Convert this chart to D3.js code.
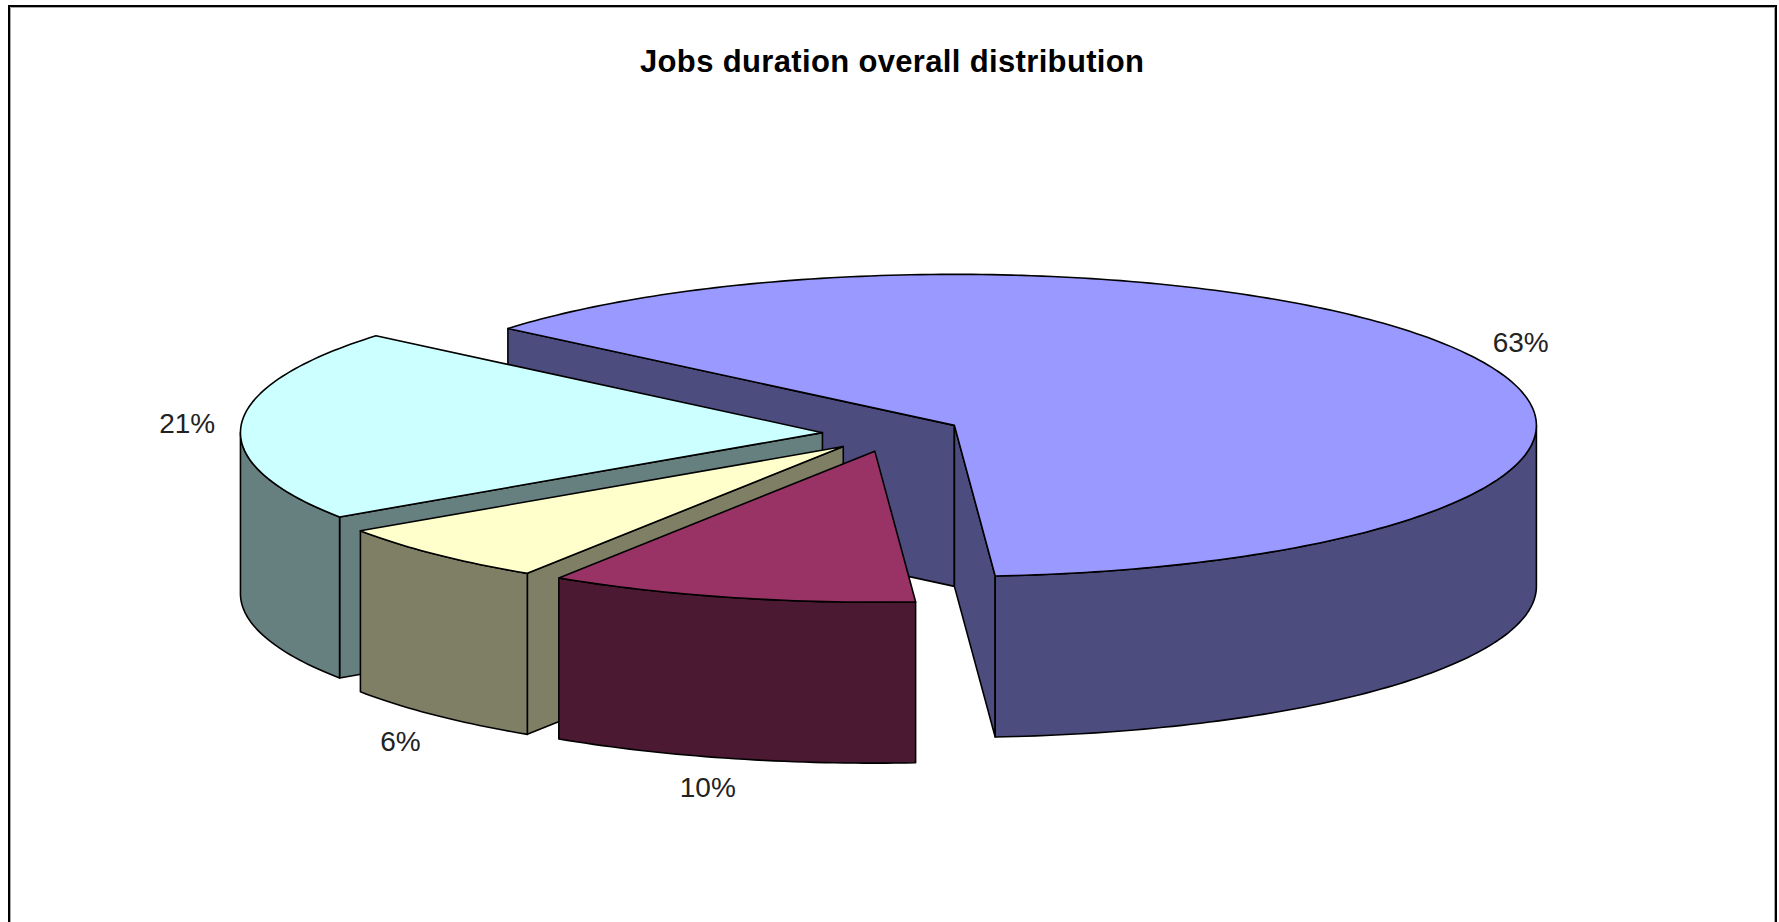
<!DOCTYPE html>
<html>
<head>
<meta charset="utf-8">
<style>
html,body{margin:0;padding:0;background:#fff;overflow:hidden}
svg{display:block}
text{font-family:"Liberation Sans",Arial,sans-serif}
</style>
<script src="https://d3js.org/d3.v7.min.js"></script>
</head>
<body>
<script>
// ---- data ----
const title = "Jobs duration overall distribution";
const values = [62.8, 10.25, 6.44, 20.51];
const labels = ["63%", "10%", "6%", "21%"];
const topColors = ["#9999FF", "#993366", "#FFFFCC", "#CCFFFF"];
const sideColors = ["#4C4C7F", "#4C1933", "#7F7F66", "#667F7F"];

// ---- layout ----
const W = 1779, H = 922;
const firstAngleDeg = -50.1;
const center = {x: 892.2, y: 433.6};
const radiusX = 582, radiusY = 151, depth = 161, explode = 0.12;
const drawOrder = [0, 3, 2, 1];   // painter's order, back to front
const labelNudge = [[48, -14], [-22, 29], [-35, 26], [-54, -1]];
const rad = d => d * Math.PI / 180;

const svg = d3.select("body").append("svg").attr("width", W).attr("height", H);

// chart frame (open at the bottom, runs off the page)
const frame = svg.append("g").attr("fill", "none");
frame.append("path").attr("d", `M10.5,${H}V7.5H1774.5V${H}`).attr("stroke", "#a8a8a8").attr("stroke-width", 1);
frame.append("path").attr("d", `M9,${H}V6H1776V${H}`).attr("stroke", "#000").attr("stroke-width", 2);

svg.append("text").attr("x", 892).attr("y", 72).attr("text-anchor", "middle")
  .attr("font-size", 31).attr("font-weight", "bold").attr("fill", "#000")
  .attr("textLength", 504).attr("lengthAdjust", "spacing").text(title);

const sx = d3.scaleLinear().domain([-1, 1]).range([-radiusX, radiusX]);
const sy = d3.scaleLinear().domain([-1, 1]).range([radiusY, -radiusY]);

const pie = d3.pie().sort(null)
  .startAngle(rad(firstAngleDeg)).endAngle(rad(firstAngleDeg) + 2 * Math.PI);
const arcs = pie(values);
const line = d3.line().x(d => d[0]).y(d => d[1]);

const geom = a => {
  const mid = (a.startAngle + a.endAngle) / 2;
  const ox = center.x + sx(Math.sin(mid)) * explode;
  const oy = center.y + sy(Math.cos(mid)) * explode;
  return {
    mid,
    pt: (t, dz = 0) => [ox + sx(Math.sin(t)), oy + sy(Math.cos(t)) + dz],
    apex: (dz = 0) => [ox, oy + dz]
  };
};
const samples = (from, to) => {
  const n = Math.max(2, Math.ceil(Math.abs(to - from) / rad(1)));
  return d3.range(n + 1).map(k => from + (to - from) * k / n);
};

drawOrder.forEach(i => {
  const a = arcs[i], {pt, apex} = geom(a);
  const g = svg.append("g").attr("stroke", "#000").attr("stroke-width", 1.6).attr("stroke-linejoin", "round");

  // cut faces: only those turned toward the viewer
  const ax = apex()[0];
  if (pt(a.startAngle)[0] < ax)
    g.append("path").attr("fill", sideColors[i])
      .attr("d", line([apex(), pt(a.startAngle), pt(a.startAngle, depth), apex(depth)]) + "Z");
  if (pt(a.endAngle)[0] > ax)
    g.append("path").attr("fill", sideColors[i])
      .attr("d", line([apex(), pt(a.endAngle), pt(a.endAngle, depth), apex(depth)]) + "Z");

  // outer wall: only the part of the rim that faces the viewer
  const lo = Math.max(a.startAngle, rad(90)), hi = Math.min(a.endAngle, rad(270));
  if (hi > lo) {
    const ts = samples(lo, hi);
    g.append("path").attr("fill", sideColors[i])
      .attr("d", line(ts.map(t => pt(t)).concat(ts.slice().reverse().map(t => pt(t, depth)))) + "Z");
  }

  // top face
  g.append("path").attr("fill", topColors[i])
    .attr("d", line([apex()].concat(samples(a.startAngle, a.endAngle).map(t => pt(t)))) + "Z");
});

arcs.forEach((a, i) => {
  const {mid, pt} = geom(a);
  const front = Math.cos(mid) < -0.3 ? depth : 0;
  const [lx, ly] = pt(mid, front);
  svg.append("text").attr("x", lx + labelNudge[i][0]).attr("y", ly + labelNudge[i][1])
    .attr("text-anchor", "middle").attr("dominant-baseline", "central")
    .attr("font-size", 28).attr("fill", "#222").text(labels[i]);
});
</script>
</body>
</html>
